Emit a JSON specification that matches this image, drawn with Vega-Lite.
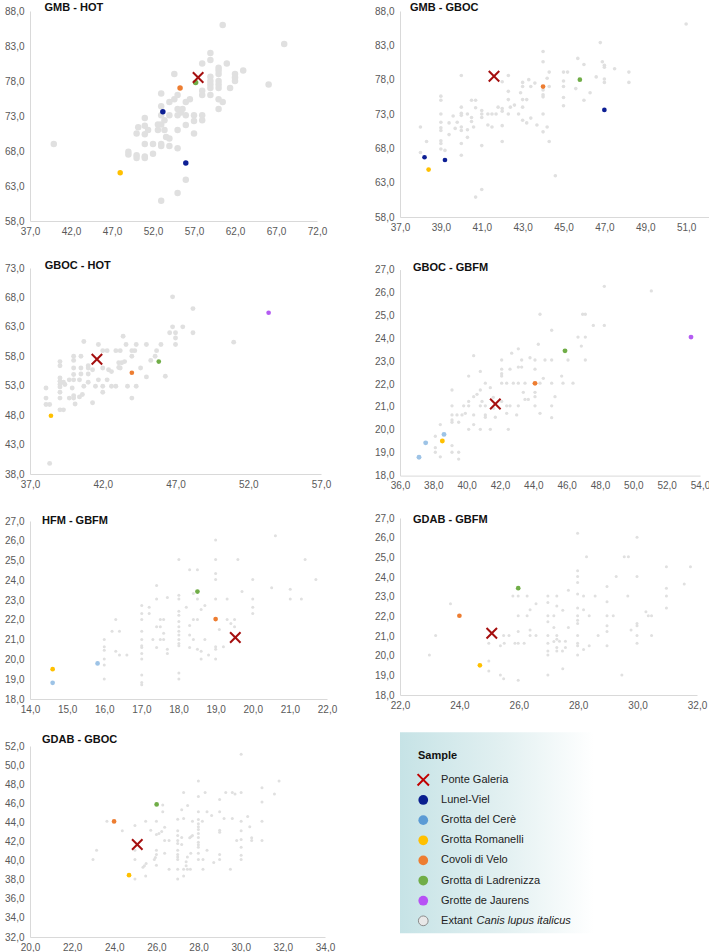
{
"$schema":"https://vega.github.io/schema/vega-lite/v6.json",
"padding":{"left":4,"top":1,"right":0,"bottom":0},
"config":{
 "locale":{"number":{"decimal":",","thousands":".","grouping":[3],"currency":["","\u00a0€"]}},
 "numberFormat":".1f",
 "view":{"stroke":null},
 "axis":{"grid":false,"ticks":false,"domainColor":"#d9d9d9","domainWidth":1,"labelColor":"#595959","labelFont":"Liberation Sans","labelFontSize":10,"labelPadding":6,"labelFlush":false,"labelOverlap":false,"labelBound":false},
 "axisX":{"labelPadding":5},
 "title":{"anchor":"start","frame":"group","font":"Liberation Sans","fontSize":11,"fontWeight":"bold","color":"#111111","baseline":"alphabetic"}
},
"datasets":{
"p1":[
{"s":"Extant","x":39.9,"y":69.0},{"s":"Extant","x":60.5,"y":86.0},{"s":"Extant","x":68.0,"y":83.3},{"s":"Extant","x":66.1,"y":77.5},{"s":"Extant","x":59.0,"y":82.0},{"s":"Extant","x":59.0,"y":81.0},{"s":"Extant","x":58.0,"y":80.5},{"s":"Extant","x":61.0,"y":80.5},{"s":"Extant","x":60.0,"y":79.9},{"s":"Extant","x":60.0,"y":79.5},{"s":"Extant","x":63.0,"y":79.5},{"s":"Extant","x":62.0,"y":79.0},{"s":"Extant","x":62.0,"y":78.5},{"s":"Extant","x":62.0,"y":78.0},{"s":"Extant","x":59.0,"y":78.6},{"s":"Extant","x":59.0,"y":78.0},{"s":"Extant","x":59.0,"y":77.5},{"s":"Extant","x":59.0,"y":77.0},{"s":"Extant","x":60.0,"y":79.0},{"s":"Extant","x":60.0,"y":78.0},{"s":"Extant","x":60.0,"y":77.5},{"s":"Extant","x":60.0,"y":77.0},{"s":"Extant","x":61.4,"y":77.0},{"s":"Extant","x":54.6,"y":79.0},{"s":"Extant","x":58.0,"y":76.6},{"s":"Extant","x":58.0,"y":76.0},{"s":"Extant","x":59.0,"y":76.0},{"s":"Extant","x":60.0,"y":75.4},{"s":"Extant","x":60.5,"y":75.0},{"s":"Extant","x":60.0,"y":74.0},{"s":"Extant","x":56.5,"y":75.4},{"s":"Extant","x":56.0,"y":75.0},{"s":"Extant","x":55.0,"y":76.0},{"s":"Extant","x":54.6,"y":75.4},{"s":"Extant","x":54.0,"y":75.0},{"s":"Extant","x":53.0,"y":76.2},{"s":"Extant","x":53.0,"y":74.4},{"s":"Extant","x":55.0,"y":74.0},{"s":"Extant","x":55.4,"y":73.5},{"s":"Extant","x":55.0,"y":73.1},{"s":"Extant","x":56.0,"y":73.1},{"s":"Extant","x":55.6,"y":74.0},{"s":"Extant","x":54.0,"y":73.1},{"s":"Extant","x":57.0,"y":73.1},{"s":"Extant","x":58.0,"y":73.1},{"s":"Extant","x":58.0,"y":72.4},{"s":"Extant","x":57.0,"y":72.3},{"s":"Extant","x":56.0,"y":71.7},{"s":"Extant","x":53.0,"y":73.1},{"s":"Extant","x":53.4,"y":72.4},{"s":"Extant","x":53.0,"y":71.8},{"s":"Extant","x":52.6,"y":71.8},{"s":"Extant","x":53.4,"y":71.0},{"s":"Extant","x":52.6,"y":71.0},{"s":"Extant","x":55.0,"y":71.0},{"s":"Extant","x":51.0,"y":72.7},{"s":"Extant","x":51.0,"y":71.6},{"s":"Extant","x":50.2,"y":71.4},{"s":"Extant","x":51.4,"y":71.0},{"s":"Extant","x":50.0,"y":70.5},{"s":"Extant","x":51.0,"y":70.4},{"s":"Extant","x":53.6,"y":70.0},{"s":"Extant","x":54.0,"y":69.8},{"s":"Extant","x":54.0,"y":68.7},{"s":"Extant","x":53.0,"y":69.0},{"s":"Extant","x":53.0,"y":68.7},{"s":"Extant","x":52.0,"y":69.0},{"s":"Extant","x":51.0,"y":69.0},{"s":"Extant","x":55.0,"y":68.4},{"s":"Extant","x":57.0,"y":70.5},{"s":"Extant","x":52.0,"y":67.6},{"s":"Extant","x":49.0,"y":67.9},{"s":"Extant","x":49.0,"y":67.5},{"s":"Extant","x":50.0,"y":67.4},{"s":"Extant","x":50.0,"y":67.0},{"s":"Extant","x":51.0,"y":67.2},{"s":"Extant","x":51.0,"y":67.0},{"s":"Extant","x":56.0,"y":63.9},{"s":"Extant","x":55.0,"y":62.0},{"s":"Extant","x":53.0,"y":60.9},
{"s":"Grotta di Ladrenizza","x":57.2,"y":77.8},{"s":"Covoli di Velo","x":55.3,"y":77.0},{"s":"Lunel-Viel","x":53.2,"y":73.6},{"s":"Lunel-Viel","x":56.0,"y":66.3},{"s":"Grotta Romanelli","x":48.0,"y":64.9},{"s":"Ponte Galeria","x":57.5,"y":78.5}
],
"p2":[
{"s":"Extant","x":51.0,"y":86.1},{"s":"Extant","x":46.8,"y":83.4},{"s":"Extant","x":44.0,"y":82.1},{"s":"Extant","x":44.0,"y":80.6},{"s":"Extant","x":45.7,"y":81.1},{"s":"Extant","x":46.9,"y":80.6},{"s":"Extant","x":47.0,"y":80.1},{"s":"Extant","x":47.0,"y":79.8},{"s":"Extant","x":46.0,"y":80.2},{"s":"Extant","x":47.5,"y":79.6},{"s":"Extant","x":48.2,"y":79.1},{"s":"Extant","x":48.2,"y":77.6},{"s":"Extant","x":47.0,"y":78.1},{"s":"Extant","x":47.0,"y":77.6},{"s":"Extant","x":46.6,"y":78.4},{"s":"Extant","x":45.0,"y":79.1},{"s":"Extant","x":45.2,"y":79.1},{"s":"Extant","x":44.3,"y":79.1},{"s":"Extant","x":45.0,"y":77.8},{"s":"Extant","x":45.0,"y":77.0},{"s":"Extant","x":45.6,"y":76.7},{"s":"Extant","x":46.3,"y":76.1},{"s":"Extant","x":46.0,"y":75.0},{"s":"Extant","x":45.0,"y":75.4},{"s":"Extant","x":45.0,"y":74.2},{"s":"Extant","x":44.0,"y":76.5},{"s":"Extant","x":44.0,"y":75.8},{"s":"Extant","x":44.0,"y":75.5},{"s":"Extant","x":44.3,"y":77.0},{"s":"Extant","x":44.2,"y":78.2},{"s":"Extant","x":42.3,"y":78.6},{"s":"Extant","x":42.0,"y":77.7},{"s":"Extant","x":43.0,"y":77.6},{"s":"Extant","x":43.0,"y":77.0},{"s":"Extant","x":43.3,"y":78.0},{"s":"Extant","x":43.4,"y":77.0},{"s":"Extant","x":43.6,"y":77.5},{"s":"Extant","x":42.3,"y":76.3},{"s":"Extant","x":42.9,"y":76.1},{"s":"Extant","x":43.0,"y":75.1},{"s":"Extant","x":43.2,"y":75.1},{"s":"Extant","x":42.3,"y":75.1},{"s":"Extant","x":42.6,"y":74.3},{"s":"Extant","x":42.4,"y":74.0},{"s":"Extant","x":43.0,"y":74.0},{"s":"Extant","x":42.0,"y":73.8},{"s":"Extant","x":42.0,"y":73.4},{"s":"Extant","x":41.8,"y":74.0},{"s":"Extant","x":41.7,"y":73.0},{"s":"Extant","x":41.5,"y":73.0},{"s":"Extant","x":41.3,"y":73.0},{"s":"Extant","x":41.0,"y":73.5},{"s":"Extant","x":41.0,"y":73.0},{"s":"Extant","x":41.0,"y":72.5},{"s":"Extant","x":40.7,"y":73.9},{"s":"Extant","x":40.5,"y":75.0},{"s":"Extant","x":40.7,"y":75.0},{"s":"Extant","x":40.0,"y":74.0},{"s":"Extant","x":40.0,"y":73.1},{"s":"Extant","x":40.0,"y":72.8},{"s":"Extant","x":40.3,"y":73.0},{"s":"Extant","x":40.5,"y":72.5},{"s":"Extant","x":40.5,"y":71.9},{"s":"Extant","x":40.6,"y":71.1},{"s":"Extant","x":40.3,"y":70.7},{"s":"Extant","x":40.3,"y":69.6},{"s":"Extant","x":40.0,"y":71.1},{"s":"Extant","x":40.0,"y":70.6},{"s":"Extant","x":40.0,"y":68.7},{"s":"Extant","x":40.0,"y":67.0},{"s":"Extant","x":41.0,"y":68.4},{"s":"Extant","x":41.3,"y":71.4},{"s":"Extant","x":41.5,"y":71.1},{"s":"Extant","x":42.0,"y":71.3},{"s":"Extant","x":42.0,"y":69.0},{"s":"Extant","x":42.3,"y":73.0},{"s":"Extant","x":42.8,"y":73.0},{"s":"Extant","x":43.0,"y":72.1},{"s":"Extant","x":43.2,"y":71.7},{"s":"Extant","x":43.4,"y":72.4},{"s":"Extant","x":43.7,"y":71.4},{"s":"Extant","x":44.0,"y":73.0},{"s":"Extant","x":44.0,"y":70.4},{"s":"Extant","x":44.2,"y":71.1},{"s":"Extant","x":44.3,"y":69.0},{"s":"Extant","x":44.6,"y":64.0},{"s":"Extant","x":40.0,"y":78.6},{"s":"Extant","x":39.0,"y":75.6},{"s":"Extant","x":39.0,"y":75.0},{"s":"Extant","x":39.0,"y":73.0},{"s":"Extant","x":39.0,"y":71.8},{"s":"Extant","x":39.0,"y":71.0},{"s":"Extant","x":39.0,"y":70.6},{"s":"Extant","x":39.0,"y":69.1},{"s":"Extant","x":39.0,"y":68.7},{"s":"Extant","x":39.0,"y":67.9},{"s":"Extant","x":39.2,"y":67.7},{"s":"Extant","x":39.4,"y":70.0},{"s":"Extant","x":39.4,"y":71.7},{"s":"Extant","x":39.6,"y":72.7},{"s":"Extant","x":39.7,"y":70.9},{"s":"Extant","x":39.8,"y":71.8},{"s":"Extant","x":38.0,"y":71.1},{"s":"Extant","x":38.0,"y":67.4},{"s":"Extant","x":38.3,"y":69.0},{"s":"Extant","x":40.7,"y":60.9},{"s":"Extant","x":41.0,"y":62.0},
{"s":"Covoli di Velo","x":44.0,"y":77.0},{"s":"Grotta di Ladrenizza","x":45.8,"y":78.0},{"s":"Lunel-Viel","x":47.0,"y":73.6},{"s":"Lunel-Viel","x":38.2,"y":66.7},{"s":"Lunel-Viel","x":39.2,"y":66.3},{"s":"Grotta Romanelli","x":38.4,"y":64.9},{"s":"Ponte Galeria","x":41.6,"y":78.5}
],
"p3":[
{"s":"Extant","x":38.35,"y":39.8},{"s":"Extant","x":38.1,"y":52.6},{"s":"Extant","x":38.1,"y":50.9},{"s":"Extant","x":38.1,"y":49.8},{"s":"Extant","x":38.35,"y":49.8},{"s":"Extant","x":39.06,"y":57.1},{"s":"Extant","x":39.06,"y":56.4},{"s":"Extant","x":39.06,"y":54.3},{"s":"Extant","x":39.06,"y":53.75},{"s":"Extant","x":39.06,"y":53.2},{"s":"Extant","x":39.06,"y":52.8},{"s":"Extant","x":39.06,"y":51.9},{"s":"Extant","x":39.06,"y":50.9},{"s":"Extant","x":39.06,"y":48.9},{"s":"Extant","x":39.3,"y":48.9},{"s":"Extant","x":39.3,"y":53.6},{"s":"Extant","x":39.4,"y":53.2},{"s":"Extant","x":39.7,"y":54.0},{"s":"Extant","x":39.9,"y":52.6},{"s":"Extant","x":39.7,"y":50.9},{"s":"Extant","x":40.0,"y":58.0},{"s":"Extant","x":40.0,"y":57.3},{"s":"Extant","x":40.0,"y":56.0},{"s":"Extant","x":40.0,"y":54.9},{"s":"Extant","x":40.0,"y":54.0},{"s":"Extant","x":40.0,"y":51.3},{"s":"Extant","x":40.0,"y":50.9},{"s":"Extant","x":40.1,"y":49.9},{"s":"Extant","x":40.4,"y":54.0},{"s":"Extant","x":40.4,"y":51.1},{"s":"Extant","x":40.6,"y":51.5},{"s":"Extant","x":40.5,"y":58.0},{"s":"Extant","x":40.5,"y":56.0},{"s":"Extant","x":40.5,"y":55.0},{"s":"Extant","x":40.7,"y":60.5},{"s":"Extant","x":41.0,"y":56.0},{"s":"Extant","x":41.0,"y":55.0},{"s":"Extant","x":41.0,"y":53.6},{"s":"Extant","x":40.7,"y":52.9},{"s":"Extant","x":41.0,"y":56.4},{"s":"Extant","x":41.3,"y":55.7},{"s":"Extant","x":41.3,"y":50.1},{"s":"Extant","x":41.7,"y":60.0},{"s":"Extant","x":41.7,"y":54.0},{"s":"Extant","x":41.5,"y":52.9},{"s":"Extant","x":42.0,"y":58.96},{"s":"Extant","x":42.3,"y":58.96},{"s":"Extant","x":42.0,"y":56.0},{"s":"Extant","x":42.4,"y":55.7},{"s":"Extant","x":42.3,"y":54.0},{"s":"Extant","x":42.0,"y":52.9},{"s":"Extant","x":42.0,"y":51.9},{"s":"Extant","x":42.6,"y":52.9},{"s":"Extant","x":42.9,"y":52.9},{"s":"Extant","x":42.6,"y":55.4},{"s":"Extant","x":42.9,"y":58.96},{"s":"Extant","x":43.2,"y":58.96},{"s":"Extant","x":43.4,"y":61.4},{"s":"Extant","x":43.6,"y":60.0},{"s":"Extant","x":43.1,"y":56.9},{"s":"Extant","x":43.3,"y":56.9},{"s":"Extant","x":43.5,"y":57.1},{"s":"Extant","x":43.1,"y":56.1},{"s":"Extant","x":43.2,"y":56.0},{"s":"Extant","x":43.7,"y":52.9},{"s":"Extant","x":44.0,"y":58.96},{"s":"Extant","x":44.2,"y":58.96},{"s":"Extant","x":44.0,"y":58.0},{"s":"Extant","x":44.0,"y":50.9},{"s":"Extant","x":44.3,"y":60.0},{"s":"Extant","x":44.3,"y":52.9},{"s":"Extant","x":44.6,"y":56.0},{"s":"Extant","x":45.0,"y":60.0},{"s":"Extant","x":45.0,"y":54.5},{"s":"Extant","x":45.3,"y":57.3},{"s":"Extant","x":45.6,"y":58.0},{"s":"Extant","x":45.7,"y":58.96},{"s":"Extant","x":46.0,"y":60.0},{"s":"Extant","x":46.3,"y":54.6},{"s":"Extant","x":46.6,"y":62.0},{"s":"Extant","x":47.0,"y":62.0},{"s":"Extant","x":47.0,"y":61.1},{"s":"Extant","x":47.0,"y":60.0},{"s":"Extant","x":46.8,"y":63.0},{"s":"Extant","x":47.5,"y":63.0},{"s":"Extant","x":46.8,"y":68.1},{"s":"Extant","x":48.2,"y":66.1},{"s":"Extant","x":48.2,"y":62.0},{"s":"Extant","x":51.0,"y":60.4},
{"s":"Covoli di Velo","x":44.0,"y":55.2},{"s":"Grotta di Ladrenizza","x":45.85,"y":57.1},{"s":"Grotte de Jaurens","x":53.4,"y":65.4},{"s":"Grotta Romanelli","x":38.44,"y":47.9},{"s":"Ponte Galeria","x":41.6,"y":57.5}
],
"p4":[
{"s":"Extant","x":48.26,"y":26.27},{"s":"Extant","x":51.08,"y":26.07},{"s":"Extant","x":44.4,"y":25.05},{"s":"Extant","x":46.96,"y":25.05},{"s":"Extant","x":47.12,"y":25.05},{"s":"Extant","x":47.6,"y":24.56},{"s":"Extant","x":48.26,"y":24.56},{"s":"Extant","x":45.1,"y":24.35},{"s":"Extant","x":46.68,"y":24.05},{"s":"Extant","x":47.12,"y":24.05},{"s":"Extant","x":44.3,"y":23.74},{"s":"Extant","x":46.88,"y":23.66},{"s":"Extant","x":43.1,"y":23.54},{"s":"Extant","x":42.7,"y":23.35},{"s":"Extant","x":40.42,"y":23.24},{"s":"Extant","x":42.1,"y":23.05},{"s":"Extant","x":43.3,"y":23.05},{"s":"Extant","x":43.8,"y":23.15},{"s":"Extant","x":44.1,"y":23.05},{"s":"Extant","x":44.7,"y":23.05},{"s":"Extant","x":45.1,"y":23.05},{"s":"Extant","x":46.08,"y":23.05},{"s":"Extant","x":47.12,"y":23.05},{"s":"Extant","x":43.1,"y":22.74},{"s":"Extant","x":43.3,"y":22.74},{"s":"Extant","x":42.1,"y":22.65},{"s":"Extant","x":42.6,"y":22.65},{"s":"Extant","x":44.1,"y":22.65},{"s":"Extant","x":42.1,"y":22.45},{"s":"Extant","x":42.1,"y":22.35},{"s":"Extant","x":40.82,"y":22.55},{"s":"Extant","x":40.12,"y":22.35},{"s":"Extant","x":45.7,"y":22.35},{"s":"Extant","x":44.6,"y":22.25},{"s":"Extant","x":41.12,"y":22.04},{"s":"Extant","x":42.1,"y":22.04},{"s":"Extant","x":42.4,"y":22.04},{"s":"Extant","x":42.8,"y":22.04},{"s":"Extant","x":43.1,"y":22.04},{"s":"Extant","x":43.5,"y":22.04},{"s":"Extant","x":44.4,"y":22.04},{"s":"Extant","x":45.1,"y":22.04},{"s":"Extant","x":45.78,"y":22.04},{"s":"Extant","x":46.38,"y":22.04},{"s":"Extant","x":41.42,"y":21.84},{"s":"Extant","x":40.82,"y":21.74},{"s":"Extant","x":39.12,"y":21.74},{"s":"Extant","x":40.62,"y":21.55},{"s":"Extant","x":40.42,"y":21.45},{"s":"Extant","x":43.4,"y":21.64},{"s":"Extant","x":44.1,"y":21.64},{"s":"Extant","x":45.3,"y":21.45},{"s":"Extant","x":41.6,"y":21.42},{"s":"Extant","x":44.1,"y":21.45},{"s":"Extant","x":43.5,"y":21.33},{"s":"Extant","x":43.7,"y":21.33},{"s":"Extant","x":40.12,"y":21.24},{"s":"Extant","x":40.92,"y":21.24},{"s":"Extant","x":42.1,"y":21.24},{"s":"Extant","x":39.12,"y":21.05},{"s":"Extant","x":39.82,"y":21.05},{"s":"Extant","x":40.12,"y":21.05},{"s":"Extant","x":40.82,"y":21.05},{"s":"Extant","x":41.12,"y":21.05},{"s":"Extant","x":42.4,"y":21.05},{"s":"Extant","x":42.6,"y":21.05},{"s":"Extant","x":43.1,"y":21.05},{"s":"Extant","x":44.1,"y":21.05},{"s":"Extant","x":45.1,"y":21.05},{"s":"Extant","x":41.62,"y":20.94},{"s":"Extant","x":39.12,"y":20.65},{"s":"Extant","x":39.42,"y":20.65},{"s":"Extant","x":39.72,"y":20.65},{"s":"Extant","x":39.92,"y":20.72},{"s":"Extant","x":40.42,"y":20.65},{"s":"Extant","x":41.12,"y":20.65},{"s":"Extant","x":41.12,"y":20.55},{"s":"Extant","x":41.72,"y":20.55},{"s":"Extant","x":42.4,"y":20.72},{"s":"Extant","x":43.0,"y":20.65},{"s":"Extant","x":44.4,"y":20.72},{"s":"Extant","x":45.1,"y":20.53},{"s":"Extant","x":39.12,"y":20.43},{"s":"Extant","x":39.12,"y":20.33},{"s":"Extant","x":39.52,"y":20.33},{"s":"Extant","x":40.42,"y":20.23},{"s":"Extant","x":38.42,"y":20.23},{"s":"Extant","x":40.12,"y":20.02},{"s":"Extant","x":40.82,"y":20.02},{"s":"Extant","x":41.42,"y":20.02},{"s":"Extant","x":42.5,"y":20.02},{"s":"Extant","x":38.12,"y":19.72},{"s":"Extant","x":38.12,"y":19.22},{"s":"Extant","x":38.12,"y":19.02},{"s":"Extant","x":39.12,"y":19.31},{"s":"Extant","x":39.12,"y":19.02},{"s":"Extant","x":39.52,"y":19.02},{"s":"Extant","x":38.42,"y":18.82},{"s":"Extant","x":39.52,"y":18.72},
{"s":"Covoli di Velo","x":44.1,"y":22.03},{"s":"Grotta di Ladrenizza","x":45.9,"y":23.45},{"s":"Grotte de Jaurens","x":53.46,"y":24.05},{"s":"Grotta Romanelli","x":38.54,"y":19.51},{"s":"Grotta del Cerè","x":38.64,"y":19.8},{"s":"Grotta del Cerè","x":37.54,"y":19.43},{"s":"Grotta del Cerè","x":37.14,"y":18.8},{"s":"Ponte Galeria","x":41.72,"y":21.13}
],
"p5":[
{"s":"Extant","x":20.61,"y":26.26},{"s":"Extant","x":19.0,"y":26.04},{"s":"Extant","x":18.01,"y":25.05},{"s":"Extant","x":19.0,"y":25.05},{"s":"Extant","x":19.6,"y":25.05},{"s":"Extant","x":21.41,"y":25.05},{"s":"Extant","x":18.3,"y":24.54},{"s":"Extant","x":18.51,"y":24.54},{"s":"Extant","x":19.0,"y":24.34},{"s":"Extant","x":19.0,"y":24.04},{"s":"Extant","x":20.0,"y":24.04},{"s":"Extant","x":21.7,"y":24.04},{"s":"Extant","x":17.41,"y":23.74},{"s":"Extant","x":20.51,"y":23.62},{"s":"Extant","x":21.01,"y":23.55},{"s":"Extant","x":19.71,"y":23.43},{"s":"Extant","x":18.4,"y":23.33},{"s":"Extant","x":18.01,"y":23.25},{"s":"Extant","x":17.7,"y":23.13},{"s":"Extant","x":17.41,"y":23.05},{"s":"Extant","x":18.01,"y":23.05},{"s":"Extant","x":18.51,"y":23.05},{"s":"Extant","x":19.0,"y":23.05},{"s":"Extant","x":19.31,"y":23.05},{"s":"Extant","x":20.0,"y":23.05},{"s":"Extant","x":21.01,"y":23.05},{"s":"Extant","x":21.31,"y":23.05},{"s":"Extant","x":17.01,"y":22.73},{"s":"Extant","x":17.21,"y":22.64},{"s":"Extant","x":18.21,"y":22.64},{"s":"Extant","x":18.71,"y":22.73},{"s":"Extant","x":18.01,"y":22.44},{"s":"Extant","x":18.01,"y":22.24},{"s":"Extant","x":17.01,"y":22.32},{"s":"Extant","x":17.21,"y":22.32},{"s":"Extant","x":18.61,"y":22.52},{"s":"Extant","x":20.0,"y":22.64},{"s":"Extant","x":20.0,"y":22.32},{"s":"Extant","x":16.31,"y":22.02},{"s":"Extant","x":17.01,"y":22.02},{"s":"Extant","x":17.51,"y":22.02},{"s":"Extant","x":17.6,"y":22.02},{"s":"Extant","x":18.4,"y":22.02},{"s":"Extant","x":18.51,"y":22.02},{"s":"Extant","x":19.31,"y":22.02},{"s":"Extant","x":19.51,"y":22.02},{"s":"Extant","x":18.01,"y":21.92},{"s":"Extant","x":19.41,"y":21.82},{"s":"Extant","x":18.01,"y":21.65},{"s":"Extant","x":17.41,"y":21.65},{"s":"Extant","x":17.51,"y":21.65},{"s":"Extant","x":18.3,"y":21.72},{"s":"Extant","x":19.51,"y":21.65},{"s":"Extant","x":16.21,"y":21.43},{"s":"Extant","x":16.41,"y":21.43},{"s":"Extant","x":17.01,"y":21.43},{"s":"Extant","x":19.1,"y":21.52},{"s":"Extant","x":18.01,"y":21.43},{"s":"Extant","x":17.6,"y":21.33},{"s":"Extant","x":18.01,"y":21.23},{"s":"Extant","x":18.3,"y":21.23},{"s":"Extant","x":16.0,"y":21.01},{"s":"Extant","x":17.01,"y":21.01},{"s":"Extant","x":17.31,"y":21.01},{"s":"Extant","x":17.51,"y":21.01},{"s":"Extant","x":17.6,"y":21.01},{"s":"Extant","x":18.01,"y":21.01},{"s":"Extant","x":18.4,"y":21.01},{"s":"Extant","x":18.71,"y":21.01},{"s":"Extant","x":18.01,"y":20.81},{"s":"Extant","x":18.01,"y":20.69},{"s":"Extant","x":16.0,"y":20.64},{"s":"Extant","x":17.01,"y":20.69},{"s":"Extant","x":17.01,"y":20.61},{"s":"Extant","x":17.41,"y":20.61},{"s":"Extant","x":18.3,"y":20.61},{"s":"Extant","x":18.51,"y":20.51},{"s":"Extant","x":18.61,"y":20.42},{"s":"Extant","x":19.0,"y":20.64},{"s":"Extant","x":19.0,"y":20.51},{"s":"Extant","x":19.21,"y":20.64},{"s":"Extant","x":16.0,"y":20.47},{"s":"Extant","x":16.31,"y":20.42},{"s":"Extant","x":16.41,"y":20.22},{"s":"Extant","x":16.61,"y":20.22},{"s":"Extant","x":17.7,"y":20.51},{"s":"Extant","x":17.7,"y":20.3},{"s":"Extant","x":17.01,"y":20.3},{"s":"Extant","x":18.81,"y":20.22},{"s":"Extant","x":16.0,"y":20.02},{"s":"Extant","x":17.01,"y":20.02},{"s":"Extant","x":18.61,"y":20.02},{"s":"Extant","x":19.0,"y":20.02},{"s":"Extant","x":16.0,"y":19.72},{"s":"Extant","x":17.01,"y":19.21},{"s":"Extant","x":18.01,"y":19.31},{"s":"Extant","x":18.01,"y":19.01},{"s":"Extant","x":16.0,"y":19.01},{"s":"Extant","x":17.01,"y":18.84},{"s":"Extant","x":17.01,"y":18.72},
{"s":"Grotta di Ladrenizza","x":18.51,"y":23.43},{"s":"Covoli di Velo","x":19.0,"y":22.04},{"s":"Grotta del Cerè","x":15.82,"y":19.8},{"s":"Grotta Romanelli","x":14.61,"y":19.51},{"s":"Grotta del Cerè","x":14.61,"y":18.82},{"s":"Ponte Galeria","x":19.53,"y":21.11}
],
"p6":[
{"s":"Extant","x":27.98,"y":26.22},{"s":"Extant","x":29.98,"y":26.02},{"s":"Extant","x":28.28,"y":25.03},{"s":"Extant","x":29.55,"y":25.03},{"s":"Extant","x":29.69,"y":25.03},{"s":"Extant","x":30.97,"y":24.52},{"s":"Extant","x":31.78,"y":24.52},{"s":"Extant","x":27.98,"y":24.32},{"s":"Extant","x":27.98,"y":24.03},{"s":"Extant","x":29.28,"y":24.03},{"s":"Extant","x":29.98,"y":24.03},{"s":"Extant","x":27.98,"y":23.72},{"s":"Extant","x":31.57,"y":23.64},{"s":"Extant","x":28.97,"y":23.52},{"s":"Extant","x":30.97,"y":23.43},{"s":"Extant","x":27.67,"y":23.33},{"s":"Extant","x":25.8,"y":23.04},{"s":"Extant","x":25.98,"y":23.04},{"s":"Extant","x":26.28,"y":23.04},{"s":"Extant","x":26.98,"y":23.04},{"s":"Extant","x":27.28,"y":23.04},{"s":"Extant","x":27.98,"y":23.13},{"s":"Extant","x":28.18,"y":23.04},{"s":"Extant","x":28.57,"y":23.04},{"s":"Extant","x":29.67,"y":23.04},{"s":"Extant","x":30.97,"y":23.04},{"s":"Extant","x":26.98,"y":22.7},{"s":"Extant","x":28.97,"y":22.74},{"s":"Extant","x":23.7,"y":22.64},{"s":"Extant","x":26.58,"y":22.64},{"s":"Extant","x":27.28,"y":22.53},{"s":"Extant","x":28.18,"y":22.33},{"s":"Extant","x":26.38,"y":22.33},{"s":"Extant","x":27.48,"y":22.31},{"s":"Extant","x":27.98,"y":22.42},{"s":"Extant","x":30.97,"y":22.42},{"s":"Extant","x":30.28,"y":22.23},{"s":"Extant","x":25.98,"y":22.03},{"s":"Extant","x":26.28,"y":22.03},{"s":"Extant","x":26.98,"y":22.03},{"s":"Extant","x":27.18,"y":22.03},{"s":"Extant","x":27.98,"y":22.03},{"s":"Extant","x":28.37,"y":22.03},{"s":"Extant","x":28.97,"y":22.03},{"s":"Extant","x":29.18,"y":22.03},{"s":"Extant","x":30.36,"y":22.03},{"s":"Extant","x":30.47,"y":22.03},{"s":"Extant","x":27.98,"y":21.8},{"s":"Extant","x":26.98,"y":21.72},{"s":"Extant","x":27.98,"y":21.64},{"s":"Extant","x":29.98,"y":21.64},{"s":"Extant","x":29.98,"y":21.52},{"s":"Extant","x":28.97,"y":21.52},{"s":"Extant","x":27.67,"y":21.43},{"s":"Extant","x":26.38,"y":21.31},{"s":"Extant","x":27.18,"y":21.43},{"s":"Extant","x":29.78,"y":21.31},{"s":"Extant","x":25.98,"y":21.23},{"s":"Extant","x":28.97,"y":21.23},{"s":"Extant","x":23.2,"y":21.02},{"s":"Extant","x":25.49,"y":21.02},{"s":"Extant","x":25.67,"y":21.02},{"s":"Extant","x":26.38,"y":21.02},{"s":"Extant","x":26.58,"y":21.02},{"s":"Extant","x":26.98,"y":21.02},{"s":"Extant","x":27.28,"y":21.02},{"s":"Extant","x":27.98,"y":21.02},{"s":"Extant","x":28.67,"y":21.02},{"s":"Extant","x":29.98,"y":21.02},{"s":"Extant","x":30.47,"y":21.02},{"s":"Extant","x":27.28,"y":20.84},{"s":"Extant","x":27.57,"y":20.73},{"s":"Extant","x":27.18,"y":20.72},{"s":"Extant","x":27.37,"y":20.73},{"s":"Extant","x":24.99,"y":20.63},{"s":"Extant","x":25.51,"y":20.63},{"s":"Extant","x":25.87,"y":20.63},{"s":"Extant","x":25.98,"y":20.63},{"s":"Extant","x":26.18,"y":20.63},{"s":"Extant","x":26.98,"y":20.63},{"s":"Extant","x":27.98,"y":20.63},{"s":"Extant","x":29.98,"y":20.63},{"s":"Extant","x":25.38,"y":20.51},{"s":"Extant","x":27.98,"y":20.51},{"s":"Extant","x":28.37,"y":20.51},{"s":"Extant","x":28.97,"y":20.51},{"s":"Extant","x":27.28,"y":20.41},{"s":"Extant","x":27.57,"y":20.41},{"s":"Extant","x":28.18,"y":20.31},{"s":"Extant","x":26.98,"y":20.24},{"s":"Extant","x":27.28,"y":20.24},{"s":"Extant","x":27.47,"y":20.24},{"s":"Extant","x":26.98,"y":20.04},{"s":"Extant","x":27.98,"y":20.04},{"s":"Extant","x":22.99,"y":20.04},{"s":"Extant","x":24.99,"y":19.73},{"s":"Extant","x":27.48,"y":19.33},{"s":"Extant","x":24.99,"y":19.22},{"s":"Extant","x":25.38,"y":19.02},{"s":"Extant","x":26.98,"y":19.02},{"s":"Extant","x":29.47,"y":19.02},{"s":"Extant","x":25.49,"y":18.83},{"s":"Extant","x":25.98,"y":18.75},
{"s":"Grotta di Ladrenizza","x":25.98,"y":23.43},{"s":"Covoli di Velo","x":24.0,"y":22.03},{"s":"Grotta Romanelli","x":24.69,"y":19.51},{"s":"Ponte Galeria","x":25.09,"y":21.14}
],
"p7":[
{"s":"Extant","x":30.02,"y":51.13},{"s":"Extant","x":27.99,"y":48.33},{"s":"Extant","x":31.82,"y":48.33},{"s":"Extant","x":31.01,"y":47.63},{"s":"Extant","x":27.29,"y":47.14},{"s":"Extant","x":28.31,"y":47.14},{"s":"Extant","x":29.29,"y":47.14},{"s":"Extant","x":29.6,"y":47.14},{"s":"Extant","x":29.73,"y":46.97},{"s":"Extant","x":30.02,"y":47.14},{"s":"Extant","x":31.6,"y":46.97},{"s":"Extant","x":27.99,"y":46.72},{"s":"Extant","x":29.0,"y":46.41},{"s":"Extant","x":31.01,"y":46.13},{"s":"Extant","x":26.3,"y":45.81},{"s":"Extant","x":27.48,"y":45.78},{"s":"Extant","x":27.2,"y":45.32},{"s":"Extant","x":26.3,"y":45.11},{"s":"Extant","x":27.99,"y":45.11},{"s":"Extant","x":28.4,"y":45.11},{"s":"Extant","x":29.0,"y":45.11},{"s":"Extant","x":28.62,"y":44.73},{"s":"Extant","x":30.33,"y":44.62},{"s":"Extant","x":29.21,"y":44.41},{"s":"Extant","x":29.6,"y":44.41},{"s":"Extant","x":27.01,"y":44.34},{"s":"Extant","x":27.29,"y":44.41},{"s":"Extant","x":27.99,"y":44.31},{"s":"Extant","x":23.65,"y":44.13},{"s":"Extant","x":25.49,"y":44.13},{"s":"Extant","x":26.0,"y":44.13},{"s":"Extant","x":27.71,"y":44.13},{"s":"Extant","x":28.18,"y":44.13},{"s":"Extant","x":30.02,"y":44.13},{"s":"Extant","x":31.01,"y":44.13},{"s":"Extant","x":24.98,"y":43.68},{"s":"Extant","x":27.99,"y":43.85},{"s":"Extant","x":27.99,"y":43.54},{"s":"Extant","x":30.43,"y":43.54},{"s":"Extant","x":26.39,"y":43.5},{"s":"Extant","x":27.99,"y":43.26},{"s":"Extant","x":25.73,"y":43.19},{"s":"Extant","x":24.38,"y":43.12},{"s":"Extant","x":27.01,"y":43.12},{"s":"Extant","x":29.0,"y":43.19},{"s":"Extant","x":29.0,"y":42.98},{"s":"Extant","x":30.02,"y":43.12},{"s":"Extant","x":26.25,"y":43.05},{"s":"Extant","x":26.12,"y":42.84},{"s":"Extant","x":26.0,"y":42.73},{"s":"Extant","x":27.99,"y":42.84},{"s":"Extant","x":27.01,"y":42.63},{"s":"Extant","x":27.71,"y":42.63},{"s":"Extant","x":27.64,"y":42.49},{"s":"Extant","x":26.39,"y":42.1},{"s":"Extant","x":26.6,"y":42.1},{"s":"Extant","x":27.01,"y":42.1},{"s":"Extant","x":27.2,"y":42.42},{"s":"Extant","x":27.99,"y":42.42},{"s":"Extant","x":27.58,"y":42.38},{"s":"Extant","x":29.81,"y":42.1},{"s":"Extant","x":30.02,"y":42.21},{"s":"Extant","x":31.01,"y":42.1},{"s":"Extant","x":30.52,"y":42.38},{"s":"Extant","x":30.52,"y":42.1},{"s":"Extant","x":27.01,"y":41.79},{"s":"Extant","x":27.2,"y":41.69},{"s":"Extant","x":27.99,"y":41.93},{"s":"Extant","x":27.99,"y":41.65},{"s":"Extant","x":27.99,"y":41.41},{"s":"Extant","x":30.02,"y":41.41},{"s":"Extant","x":28.4,"y":41.09},{"s":"Extant","x":23.16,"y":41.09},{"s":"Extant","x":26.0,"y":41.09},{"s":"Extant","x":27.01,"y":41.09},{"s":"Extant","x":24.98,"y":41.09},{"s":"Extant","x":26.0,"y":40.64},{"s":"Extant","x":27.01,"y":40.64},{"s":"Extant","x":27.63,"y":40.78},{"s":"Extant","x":26.39,"y":40.78},{"s":"Extant","x":27.99,"y":40.78},{"s":"Extant","x":29.0,"y":40.64},{"s":"Extant","x":30.02,"y":40.57},{"s":"Extant","x":25.95,"y":40.32},{"s":"Extant","x":27.01,"y":40.39},{"s":"Extant","x":27.47,"y":40.39},{"s":"Extant","x":22.99,"y":40.11},{"s":"Extant","x":24.98,"y":40.11},{"s":"Extant","x":25.9,"y":40.11},{"s":"Extant","x":27.01,"y":40.11},{"s":"Extant","x":27.99,"y":40.11},{"s":"Extant","x":28.21,"y":40.11},{"s":"Extant","x":29.0,"y":40.11},{"s":"Extant","x":30.02,"y":40.11},{"s":"Extant","x":28.72,"y":39.8},{"s":"Extant","x":25.51,"y":39.69},{"s":"Extant","x":27.41,"y":39.87},{"s":"Extant","x":25.43,"y":39.45},{"s":"Extant","x":25.36,"y":39.31},{"s":"Extant","x":26.0,"y":39.52},{"s":"Extant","x":27.41,"y":39.45},{"s":"Extant","x":26.6,"y":39.1},{"s":"Extant","x":27.01,"y":39.1},{"s":"Extant","x":27.29,"y":39.1},{"s":"Extant","x":27.47,"y":39.1},{"s":"Extant","x":27.61,"y":39.1},{"s":"Extant","x":28.21,"y":39.1},{"s":"Extant","x":29.51,"y":39.1},{"s":"Extant","x":25.49,"y":38.4},{"s":"Extant","x":27.29,"y":38.4},{"s":"Extant","x":27.01,"y":38.08},{"s":"Extant","x":24.98,"y":38.08},
{"s":"Grotta di Ladrenizza","x":26.01,"y":45.88},{"s":"Covoli di Velo","x":23.99,"y":44.1},{"s":"Grotta Romanelli","x":24.7,"y":38.47},{"s":"Ponte Galeria","x":25.09,"y":41.69}
],
"legend":[
{"s":"Ponte Galeria"},{"s":"Lunel-Viel"},{"s":"Grotta del Cerè"},{"s":"Grotta Romanelli"},{"s":"Covoli di Velo"},{"s":"Grotta di Ladrenizza"},{"s":"Grotte de Jaurens"},{"s":"Extant"}
]
},
"hconcat":[
{"vconcat":[
 {"width":287,"height":210,"title":{"text":"GMB - HOT","offset":-6.6,"dx":14.5},"data":{"name":"p1"},
  "encoding":{"x":{"field":"x","type":"quantitative","scale":{"domain":[37,72],"nice":false,"zero":false},"axis":{"values":[37,42,47,52,57,62,67,72],"title":null}},
   "y":{"field":"y","type":"quantitative","scale":{"domain":[58,88],"nice":false,"zero":false},"axis":{"values":[58,63,68,73,78,83,88],"title":null}}},
  "layer":[
   {"transform":[{"filter":"datum.s === 'Extant'"}],"mark":{"type":"point","filled":true,"opacity":1,"color":"#e0e0e0","size":42}},
   {"transform":[{"filter":"datum.s !== 'Extant' && datum.s !== 'Ponte Galeria'"}],"mark":{"type":"point","filled":true,"opacity":1,"size":30},"encoding":{"color":{"field":"s","type":"nominal","scale":{"domain":["Lunel-Viel","Grotta del Cerè","Grotta Romanelli","Covoli di Velo","Grotta di Ladrenizza","Grotte de Jaurens"],"range":["#0d1f94","#9dc3e6","#ffc000","#ed7d31","#70ad47","#b45cf2"]},"legend":null}}},
   {"transform":[{"filter":"datum.s === 'Ponte Galeria'"}],"mark":{"type":"point","shape":"M-1,-1L1,1M-1,1L1,-1","filled":false,"opacity":1,"stroke":"#a50f0f","strokeWidth":2,"size":110}}
  ]},
 {"width":291,"height":206,"title":{"text":"GBOC - HOT","offset":-7.9,"dx":14.7},"data":{"name":"p3"},
  "encoding":{"x":{"field":"x","type":"quantitative","scale":{"domain":[37,57],"nice":false,"zero":false},"axis":{"values":[37,42,47,52,57],"title":null}},
   "y":{"field":"y","type":"quantitative","scale":{"domain":[38,73],"nice":false,"zero":false},"axis":{"values":[38,43,48,53,58,63,68,73],"title":null}}},
  "layer":[
   {"transform":[{"filter":"datum.s === 'Extant'"}],"mark":{"type":"point","filled":true,"opacity":1,"color":"#e0e0e0","size":24}},
   {"transform":[{"filter":"datum.s !== 'Extant' && datum.s !== 'Ponte Galeria'"}],"mark":{"type":"point","filled":true,"opacity":1,"size":22},"encoding":{"color":{"field":"s","type":"nominal","scale":{"domain":["Lunel-Viel","Grotta del Cerè","Grotta Romanelli","Covoli di Velo","Grotta di Ladrenizza","Grotte de Jaurens"],"range":["#0d1f94","#9dc3e6","#ffc000","#ed7d31","#70ad47","#b45cf2"]},"legend":null}}},
   {"transform":[{"filter":"datum.s === 'Ponte Galeria'"}],"mark":{"type":"point","shape":"M-1,-1L1,1M-1,1L1,-1","filled":false,"opacity":1,"stroke":"#a50f0f","strokeWidth":2,"size":110}}
  ]},
 {"width":297,"height":178,"title":{"text":"HFM - GBFM","offset":-9.6,"dx":12},"data":{"name":"p5"},
  "encoding":{"x":{"field":"x","type":"quantitative","scale":{"domain":[14,22],"nice":false,"zero":false},"axis":{"values":[14,15,16,17,18,19,20,21,22],"title":null}},
   "y":{"field":"y","type":"quantitative","scale":{"domain":[18,27],"nice":false,"zero":false},"axis":{"values":[18,19,20,21,22,23,24,25,26,27],"title":null}}},
  "layer":[
   {"transform":[{"filter":"datum.s === 'Extant'"}],"mark":{"type":"point","filled":true,"opacity":1,"color":"#e0e0e0","size":9}},
   {"transform":[{"filter":"datum.s !== 'Extant' && datum.s !== 'Ponte Galeria'"}],"mark":{"type":"point","filled":true,"opacity":1,"size":22},"encoding":{"color":{"field":"s","type":"nominal","scale":{"domain":["Lunel-Viel","Grotta del Cerè","Grotta Romanelli","Covoli di Velo","Grotta di Ladrenizza","Grotte de Jaurens"],"range":["#0d1f94","#9dc3e6","#ffc000","#ed7d31","#70ad47","#b45cf2"]},"legend":null}}},
   {"transform":[{"filter":"datum.s === 'Ponte Galeria'"}],"mark":{"type":"point","shape":"M-1,-1L1,1M-1,1L1,-1","filled":false,"opacity":1,"stroke":"#a50f0f","strokeWidth":2,"size":110}}
  ]},
 {"width":295,"height":191,"title":{"text":"GDAB - GBOC","offset":-4.3,"dx":12},"data":{"name":"p7"},
  "encoding":{"x":{"field":"x","type":"quantitative","scale":{"domain":[20,34],"nice":false,"zero":false},"axis":{"values":[20,22,24,26,28,30,32,34],"title":null}},
   "y":{"field":"y","type":"quantitative","scale":{"domain":[32,52],"nice":false,"zero":false},"axis":{"values":[32,34,36,38,40,42,44,46,48,50,52],"title":null}}},
  "layer":[
   {"transform":[{"filter":"datum.s === 'Extant'"}],"mark":{"type":"point","filled":true,"opacity":1,"color":"#e0e0e0","size":9}},
   {"transform":[{"filter":"datum.s !== 'Extant' && datum.s !== 'Ponte Galeria'"}],"mark":{"type":"point","filled":true,"opacity":1,"size":22},"encoding":{"color":{"field":"s","type":"nominal","scale":{"domain":["Lunel-Viel","Grotta del Cerè","Grotta Romanelli","Covoli di Velo","Grotta di Ladrenizza","Grotte de Jaurens"],"range":["#0d1f94","#9dc3e6","#ffc000","#ed7d31","#70ad47","#b45cf2"]},"legend":null}}},
   {"transform":[{"filter":"datum.s === 'Ponte Galeria'"}],"mark":{"type":"point","shape":"M-1,-1L1,1M-1,1L1,-1","filled":false,"opacity":1,"stroke":"#a50f0f","strokeWidth":2,"size":110}}
  ]}
],"spacing":47,"bounds":"flush"},
{"vconcat":[
 {"vconcat":[
  {"width":327,"height":206,"title":{"text":"GMB - GBOC","offset":-6.6,"dx":10},"data":{"name":"p2"},
   "encoding":{"x":{"field":"x","type":"quantitative","scale":{"domain":[37,53],"nice":false,"zero":false},"axis":{"values":[37,39,41,43,45,47,49,51],"title":null}},
    "y":{"field":"y","type":"quantitative","scale":{"domain":[58,88],"nice":false,"zero":false},"axis":{"values":[58,63,68,73,78,83,88],"title":null}}},
   "layer":[
    {"transform":[{"filter":"datum.s === 'Extant'"}],"mark":{"type":"point","filled":true,"opacity":1,"color":"#e0e0e0","size":13}},
    {"transform":[{"filter":"datum.s !== 'Extant' && datum.s !== 'Ponte Galeria'"}],"mark":{"type":"point","filled":true,"opacity":1,"size":22},"encoding":{"color":{"field":"s","type":"nominal","scale":{"domain":["Lunel-Viel","Grotta del Cerè","Grotta Romanelli","Covoli di Velo","Grotta di Ladrenizza","Grotte de Jaurens"],"range":["#0d1f94","#9dc3e6","#ffc000","#ed7d31","#70ad47","#b45cf2"]},"legend":null}}},
    {"transform":[{"filter":"datum.s === 'Ponte Galeria'"}],"mark":{"type":"point","shape":"M-1,-1L1,1M-1,1L1,-1","filled":false,"opacity":1,"stroke":"#a50f0f","strokeWidth":2,"size":110}}
   ]},
  {"width":300,"height":206,"title":{"text":"GBOC - GBFM","offset":-8,"dx":13},"data":{"name":"p4"},
   "encoding":{"x":{"field":"x","type":"quantitative","scale":{"domain":[36,54],"nice":false,"zero":false},"axis":{"values":[36,38,40,42,44,46,48,50,52,54],"title":null}},
    "y":{"field":"y","type":"quantitative","scale":{"domain":[18,27],"nice":false,"zero":false},"axis":{"values":[18,19,20,21,22,23,24,25,26,27],"title":null}}},
   "layer":[
    {"transform":[{"filter":"datum.s === 'Extant'"}],"mark":{"type":"point","filled":true,"opacity":1,"color":"#e0e0e0","size":11}},
    {"transform":[{"filter":"datum.s !== 'Extant' && datum.s !== 'Ponte Galeria'"}],"mark":{"type":"point","filled":true,"opacity":1,"size":24},"encoding":{"color":{"field":"s","type":"nominal","scale":{"domain":["Lunel-Viel","Grotta del Cerè","Grotta Romanelli","Covoli di Velo","Grotta di Ladrenizza","Grotte de Jaurens"],"range":["#0d1f94","#9dc3e6","#ffc000","#ed7d31","#70ad47","#b45cf2"]},"legend":null}}},
    {"transform":[{"filter":"datum.s === 'Ponte Galeria'"}],"mark":{"type":"point","shape":"M-1,-1L1,1M-1,1L1,-1","filled":false,"opacity":1,"stroke":"#a50f0f","strokeWidth":2,"size":110}}
   ]}
 ],"spacing":52.6,"bounds":"flush"},
 {"vconcat":[
  {"width":297,"height":177,"title":{"text":"GDAB - GBFM","offset":-12.3,"dx":13},"data":{"name":"p6"},
   "encoding":{"x":{"field":"x","type":"quantitative","scale":{"domain":[22,32],"nice":false,"zero":false},"axis":{"values":[22,24,26,28,30,32],"title":null}},
    "y":{"field":"y","type":"quantitative","scale":{"domain":[18,27],"nice":false,"zero":false},"axis":{"values":[18,19,20,21,22,23,24,25,26,27],"title":null}}},
   "layer":[
    {"transform":[{"filter":"datum.s === 'Extant'"}],"mark":{"type":"point","filled":true,"opacity":1,"color":"#e0e0e0","size":9}},
    {"transform":[{"filter":"datum.s !== 'Extant' && datum.s !== 'Ponte Galeria'"}],"mark":{"type":"point","filled":true,"opacity":1,"size":22},"encoding":{"color":{"field":"s","type":"nominal","scale":{"domain":["Lunel-Viel","Grotta del Cerè","Grotta Romanelli","Covoli di Velo","Grotta di Ladrenizza","Grotte de Jaurens"],"range":["#0d1f94","#9dc3e6","#ffc000","#ed7d31","#70ad47","#b45cf2"]},"legend":null}}},
    {"transform":[{"filter":"datum.s === 'Ponte Galeria'"}],"mark":{"type":"point","shape":"M-1,-1L1,1M-1,1L1,-1","filled":false,"opacity":1,"stroke":"#a50f0f","strokeWidth":2,"size":110}}
   ]},
  {"width":228,"height":201,"title":{"text":"Sample","offset":-29,"dx":18},
   "layer":[
    {"data":{"values":[{}]},"mark":{"type":"rect","color":{"gradient":"linear","x1":0,"y1":0,"x2":1,"y2":0,"stops":[{"offset":0,"color":"#c6e3e6"},{"offset":0.45,"color":"#e2f0f1"},{"offset":0.85,"color":"#ffffff"},{"offset":1,"color":"#ffffff"}]}},"encoding":{}},
    {"data":{"name":"legend"},"transform":[{"filter":"datum.s !== 'Ponte Galeria'"}],"mark":{"type":"point","filled":true,"opacity":1,"size":95,"strokeWidth":1},
     "encoding":{"x":{"datum":1.02,"type":"quantitative","scale":{"domain":[0,10],"nice":false,"zero":false},"axis":null},
      "y":{"field":"s","type":"nominal","scale":{"type":"band","domain":["Ponte Galeria","Lunel-Viel","Grotta del Cerè","Grotta Romanelli","Covoli di Velo","Grotta di Ladrenizza","Grotte de Jaurens","Extant"],"paddingInner":0,"paddingOuter":0.99,"align":0.94},"axis":null},
      "fill":{"field":"s","type":"nominal","scale":{"domain":["Lunel-Viel","Grotta del Cerè","Grotta Romanelli","Covoli di Velo","Grotta di Ladrenizza","Grotte de Jaurens","Extant"],"range":["#0a1f8f","#5b9bd5","#ffc000","#ed7d31","#70ad47","#b752f5","#e8e8e8"]},"legend":null},
      "stroke":{"condition":{"test":"datum.s === 'Extant'","value":"#8c8c8c"},"value":null}}},
    {"data":{"name":"legend"},"transform":[{"filter":"datum.s === 'Ponte Galeria'"}],"mark":{"type":"point","shape":"M-1,-1L1,1M-1,1L1,-1","filled":false,"opacity":1,"stroke":"#c00000","strokeWidth":2,"size":130},
     "encoding":{"x":{"datum":1.02,"type":"quantitative","scale":{"domain":[0,10],"nice":false,"zero":false},"axis":null},
      "y":{"field":"s","type":"nominal","scale":{"type":"band","domain":["Ponte Galeria","Lunel-Viel","Grotta del Cerè","Grotta Romanelli","Covoli di Velo","Grotta di Ladrenizza","Grotte de Jaurens","Extant"],"paddingInner":0,"paddingOuter":0.99,"align":0.94},"axis":null}}},
    {"data":{"name":"legend"},"mark":{"type":"text","align":"left","baseline":"middle","font":"Liberation Sans","fontSize":11,"color":"#222222"},
     "encoding":{"x":{"datum":1.8,"type":"quantitative","scale":{"domain":[0,10],"nice":false,"zero":false},"axis":null},
      "y":{"field":"s","type":"nominal","scale":{"type":"band","domain":["Ponte Galeria","Lunel-Viel","Grotta del Cerè","Grotta Romanelli","Covoli di Velo","Grotta di Ladrenizza","Grotte de Jaurens","Extant"],"paddingInner":0,"paddingOuter":0.99,"align":0.94},"axis":null},"text":{"field":"s"}}},
    {"data":{"name":"legend"},"transform":[{"filter":"datum.s === 'Extant'"}],"mark":{"type":"text","align":"left","baseline":"middle","font":"Liberation Sans","fontSize":11,"fontStyle":"italic","color":"#222222","text":"Canis lupus italicus"},
     "encoding":{"x":{"datum":3.36,"type":"quantitative","scale":{"domain":[0,10],"nice":false,"zero":false},"axis":null},
      "y":{"field":"s","type":"nominal","scale":{"type":"band","domain":["Ponte Galeria","Lunel-Viel","Grotta del Cerè","Grotta Romanelli","Covoli di Velo","Grotta di Ladrenizza","Grotte de Jaurens","Extant"],"paddingInner":0,"paddingOuter":0.99,"align":0.94},"axis":null}}}
   ]}
 ],"spacing":37.3,"bounds":"flush"}
],"spacing":22,"bounds":"full"}
],
"spacing":37,
"bounds":"full"
}
